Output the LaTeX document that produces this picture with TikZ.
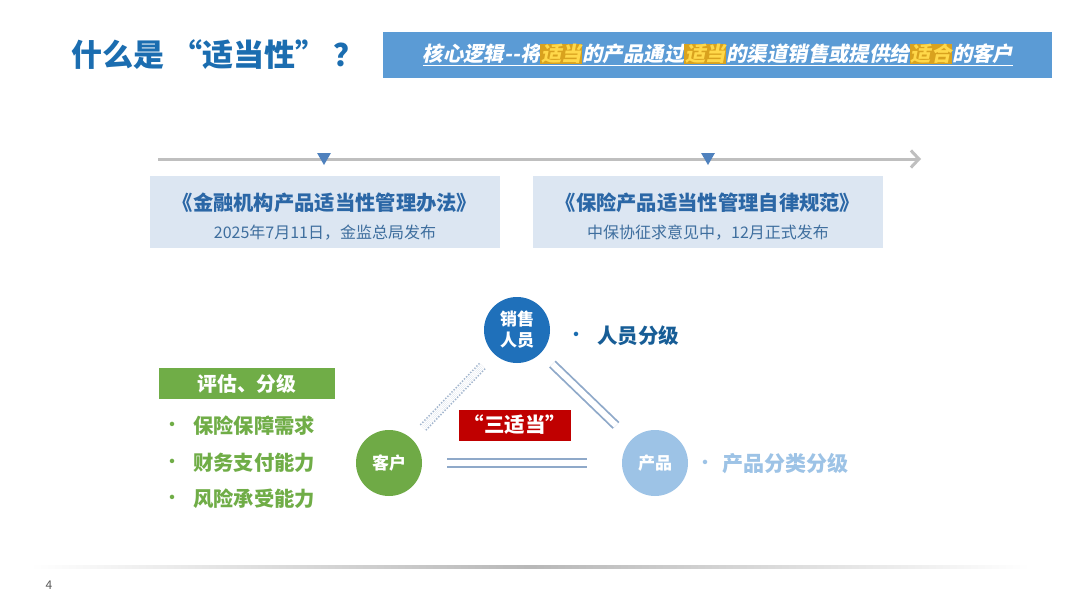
\documentclass[tikz,border=0pt]{standalone}
\usepackage{fontspec}
\setmainfont{Noto Sans CJK SC}
\newfontfamily\slantfont{Noto Sans CJK SC}[FakeSlant=0.2]
\usetikzlibrary{arrows.meta,shapes.geometric}
\definecolor{titleblue}{HTML}{1B6DB0}
\definecolor{bannerblue}{HTML}{5B9BD5}
\definecolor{hlbg}{HTML}{D9A21E}
\definecolor{hlfg}{HTML}{FFD84A}
\definecolor{tlgray}{HTML}{BFBFBF}
\definecolor{tri}{HTML}{4F81BD}
\definecolor{boxfill}{HTML}{DCE6F2}
\definecolor{boxtitle}{HTML}{2B67A6}
\definecolor{boxsub}{HTML}{3E6E9E}
\definecolor{salesblue}{HTML}{1F70BA}
\definecolor{custgreen}{HTML}{6FAA46}
\definecolor{prodblue}{HTML}{9DC3E6}
\definecolor{linecol}{HTML}{8FA9C9}
\definecolor{dotcol}{HTML}{A3B6CE}
\definecolor{darkred}{HTML}{C00000}
\definecolor{greentxt}{HTML}{70AD47}
\definecolor{pagegray}{HTML}{595959}
\newcommand{\hlt}[1]{{\setlength{\fboxsep}{0.6pt}\colorbox{hlbg}{\textcolor{hlfg}{#1}}}}
\newcommand{\fs}[1]{\fontsize{#1}{#1}\selectfont}
\begin{document}
\begin{tikzpicture}[x=1pt,y=-1pt,
  infobox/.style={fill=boxfill, draw=none, minimum width=350pt, minimum height=72pt, inner sep=0pt},
  boxhead/.style={text=boxtitle, font=\fs{20.3}\bfseries, inner sep=0pt},
  boxsubt/.style={text=boxsub, font=\fs{16}, inner sep=0pt},
  marker/.style={regular polygon, regular polygon sides=3, shape border rotate=180, fill=tri, draw=none, minimum size=16pt, inner sep=0pt},
  ball/.style={circle, minimum size=66pt, inner sep=0pt, text=white, font=\fontsize{17}{21}\selectfont\bfseries, align=center},
  dbl/.style={draw=linecol, line width=1.8pt, double=white, double distance=6pt},
  dbldot/.style={draw=dotcol, line width=1.6pt, double=white, double distance=6pt, dash pattern=on 1.4pt off 1.6pt},
  greenitem/.style={anchor=west, text=greentxt, font=\fs{20.3}\bfseries, inner sep=0pt},
  dotmark/.style={inner sep=0pt, font=\fs{16}\bfseries},
]
\useasboundingbox (0,0) rectangle (1080,608);
\fill[white] (0,0) rectangle (1080,608);

% title
\node[anchor=west, inner sep=0pt, text=titleblue, font=\fs{31}\bfseries] (title) at (71,55) {什么是\hspace{7pt}“适当性”\hspace{7pt}？};

% banner
\node[fill=bannerblue, minimum width=669pt, minimum height=46pt, inner sep=0pt] (banner) at (717.5,55) {};
\node[inner sep=0pt, text=white, font=\slantfont\fs{20.4}\bfseries] (bantext) at (718,54)
  {核心逻辑--将\hlt{适当}的产品通过\hlt{适当}的渠道销售或提供给\hlt{适合}的客户};
\draw[white, line width=1.1pt] ([yshift=-3.5pt]bantext.base west) -- ([yshift=-3.5pt]bantext.base east);

% timeline
\coordinate (tl0) at (158,159);
\coordinate (tl1) at (921,159);
\draw[tlgray, line width=3pt, -{Straight Barb[length=8pt, width=17pt, line width=3pt]}] (tl0) -- (tl1);
\node[marker] (m1) at (324,157) {};
\node[marker] (m2) at (708,157) {};

% info boxes
\node[infobox] (box1) at (325,212) {};
\node[boxhead] (b1t) at (325,203) {《金融机构产品适当性管理办法》};
\node[boxsubt] (b1s) at (325,233) {2025年7月11日，金监总局发布};
\node[infobox] (box2) at (708,212) {};
\node[boxhead] (b2t) at (708,203) {《保险产品适当性管理自律规范》};
\node[boxsubt] (b2s) at (708,233) {中保协征求意见中，12月正式发布};

% triangle of circles
\node[ball, fill=salesblue] (sales) at (517,330) {销售\\人员};
\node[ball, fill=custgreen] (cust) at (389,463) {客户};
\node[ball, fill=prodblue] (prod) at (655,463) {产品};

\draw[dbldot, shorten <=16pt, shorten >=16pt] (cust) -- (sales);
\draw[dbl, shorten <=16pt, shorten >=21pt] (sales) -- (prod);
\draw[dbl, shorten <=25pt, shorten >=35pt] (cust) -- (prod);

\node[fill=darkred, minimum width=112pt, minimum height=31pt, inner sep=0pt, text=white, font=\fs{20.5}\bfseries] (three) at (515,425) {“三适当”};

% right labels
\node[dotmark, text=titleblue] (d1) at (576,336) {·};
\node[anchor=west, inner sep=0pt, text=titleblue!85!black, font=\fs{20.5}\bfseries] (lbl1) at (597,336) {人员分级};
\node[dotmark, text=prodblue] (d2) at (705,464) {·};
\node[anchor=west, inner sep=0pt, text=prodblue, font=\fs{21}\bfseries] (lbl2) at (722,464) {产品分类分级};

% left green block
\node[fill=greentxt, minimum width=176pt, minimum height=31pt, inner sep=0pt, text=white, font=\fs{19.8}\bfseries] (ghead) at (247,383.5) {评估、分级};
\node[dotmark, text=greentxt] (g1d) at (172,426) {·};
\node[greenitem] (g1) at (193,426) {保险保障需求};
\node[dotmark, text=greentxt] (g2d) at (172,463) {·};
\node[greenitem] (g2) at (193,463) {财务支付能力};
\node[dotmark, text=greentxt] (g3d) at (172,499) {·};
\node[greenitem] (g3) at (193,499) {风险承受能力};

% bottom shadow line and page number
\shade[left color=white, right color=white, middle color=black!28] (30,565.5) rectangle (1030,568.5);
\node[inner sep=0pt, text=pagegray, font=\fs{12}] (page) at (49,585) {4};
\end{tikzpicture}
\end{document}
